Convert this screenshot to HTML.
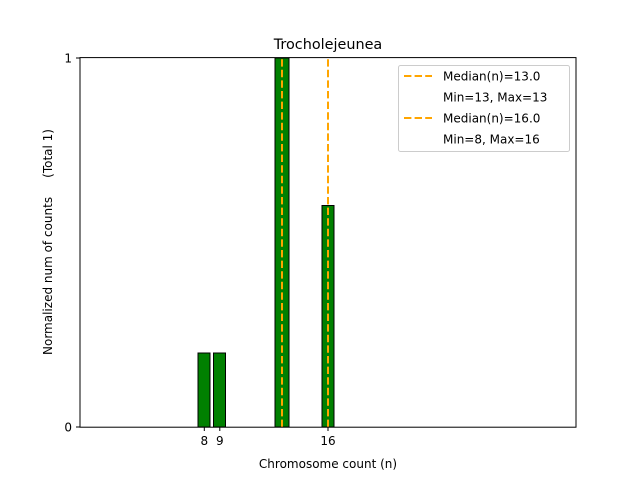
<!DOCTYPE html>
<html><head><style>body{margin:0;background:#fff}</style></head><body>
<svg width="640" height="480" xmlns="http://www.w3.org/2000/svg" font-family="DejaVu Sans, Liberation Sans, sans-serif">
<rect width="640" height="480" fill="#fff"/>
<g stroke="#000" stroke-width="1" fill="#008000">
<rect x="198" y="353" width="12" height="74"/>
<rect x="213.5" y="353" width="12" height="74"/>
<rect x="275" y="58" width="14" height="369"/>
<rect x="322" y="205.5" width="12" height="221.5"/>
</g>
<g stroke="#FFA500" stroke-width="2" stroke-dasharray="7.4,3.2">
<line x1="282" y1="427" x2="282" y2="58"/>
<line x1="328" y1="427" x2="328" y2="58"/>
</g>
<rect x="80" y="57.6" width="496" height="369.6" fill="none" stroke="#000" stroke-width="1"/>
<g stroke="#000" stroke-width="1">
<line x1="204.3" y1="427" x2="204.3" y2="431"/>
<line x1="219.8" y1="427" x2="219.8" y2="431"/>
<line x1="328" y1="427" x2="328" y2="431"/>
<line x1="80" y1="427" x2="76" y2="427"/>
<line x1="80" y1="58" x2="76" y2="58"/>
</g>
<g font-size="12" fill="#000">
<text x="204.3" y="445" text-anchor="middle">8</text>
<text x="219.8" y="445" text-anchor="middle">9</text>
<text x="328" y="445" text-anchor="middle">16</text>
<text x="72" y="431.5" text-anchor="end">0</text>
<text x="72" y="62.5" text-anchor="end">1</text>
<text x="328" y="468" text-anchor="middle">Chromosome count (n)</text>
<text transform="translate(52,242) rotate(-90)" text-anchor="middle" xml:space="preserve">Normalized num of counts     (Total 1)</text>
</g>
<text x="328" y="49" font-size="14.4" text-anchor="middle">Trocholejeunea</text>
<rect x="398.5" y="65.5" width="171" height="86" rx="2" fill="#fff" fill-opacity="0.8" stroke="#ccc"/>
<g stroke="#FFA500" stroke-width="2" stroke-dasharray="7.4,3.2">
<line x1="404" y1="76" x2="432" y2="76"/>
<line x1="404" y1="118" x2="432" y2="118"/>
</g>
<g font-size="12" fill="#000">
<text x="443" y="80.5">Median(n)=13.0</text>
<text x="443" y="101.5">Min=13, Max=13</text>
<text x="443" y="122.5">Median(n)=16.0</text>
<text x="443" y="143.5">Min=8, Max=16</text>
</g>
</svg>
</body></html>
